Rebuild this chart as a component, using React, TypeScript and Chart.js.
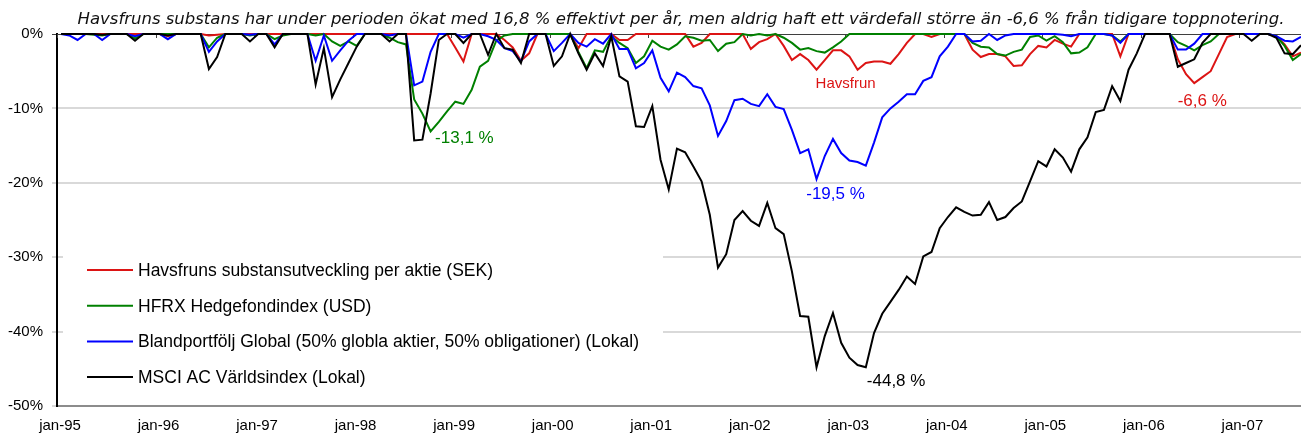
import React, { useEffect, useRef } from "react";
import { Chart, registerables } from "chart.js";

Chart.register(...registerables);

const TITLE =
  "Havsfruns substans har under perioden ökat med 16,8 % effektivt per år, men aldrig haft ett värdefall större än -6,6 % från tidigare toppnotering.";

const YEAR_LABELS = [
  "jan-95", "jan-96", "jan-97", "jan-98", "jan-99", "jan-00", "jan-01",
  "jan-02", "jan-03", "jan-04", "jan-05", "jan-06", "jan-07",
];

const SERIES_NAMES = [
  "Havsfruns substansutveckling per aktie (SEK)",
  "HFRX Hedgefondindex (USD)",
  "Blandportfölj Global (50% globla aktier, 50% obligationer) (Lokal)",
  "MSCI AC Världsindex (Lokal)",
];

const SERIES_COLORS = ["#dc1414", "#008000", "#0000ff", "#000000"];

// monthly drawdown (%), jan-95 .. aug-07
const HAVSFRUN = [
  0, 0, 0, 0, 0, 0, 0, 0, 0, 0, 0, 0,
  0, -0.3, 0, 0, 0, 0, -0.2, -0.1, 0, 0, 0, 0,
  0, 0, 0, 0, 0, 0, 0, 0, 0, 0, 0, 0,
  0, 0, 0, 0, 0, 0, 0, 0, 0, 0, 0, 0,
  -1.8, -3.7, 0, 0, 0, 0, -0.8, -1.8, -3.6, -2.6, 0, 0,
  0, 0, 0, -1.9, 0, 0, 0, 0, -0.8, -0.8, 0, 0,
  0, 0, 0, 0, 0, -1.7, -1.2, 0, 0, 0, 0, 0,
  -2.0, -1.1, -0.7, 0, -1.6, -3.5, -2.7, -3.5, -4.8, -3.5, -2.2, -2.2,
  -3.0, -4.8, -3.9, -3.7, -3.7, -4.0, -2.7, -1.2, 0, 0, -0.4, 0,
  0, 0, 0, -2.1, -3.1, -2.7, -2.7, -3.0, -4.3, -4.2, -2.7, -1.6,
  -1.8, -0.8, -1.3, -1.7, 0, 0, 0, 0, 0, -3.0, 0, 0,
  0, 0, 0, 0, -3.4, -5.4, -6.6, -5.8, -5.0, -2.7, -0.4, 0,
  0, 0, 0, 0, -0.3, -1.4, -3.0, -2.5,
];

const HFRX = [
  0, 0, 0, 0, -0.1, -0.2, 0, 0, 0, -0.6, 0, 0,
  0, 0, 0, 0, 0, 0, -1.8, -0.5, 0, 0, 0, -0.2,
  0, 0, -0.7, -0.2, 0, 0, 0, -0.2, 0, -1.0, -1.6, -1.0,
  -1.6, 0, 0, 0, -0.5, -1.1, -1.4, -8.8, -10.7, -13.1, -11.8, -10.4,
  -9.1, -9.4, -7.5, -4.4, -3.6, -0.9, -0.2, 0, 0, 0, 0, 0,
  0, 0, 0, -2.4, -4.6, -2.2, -2.4, -0.3, -1.2, -1.9, -3.9, -3.0,
  -0.9, -1.7, -2.1, -1.4, -0.3, -0.5, -0.9, -0.8, -2.3, -1.3, -1.1, 0,
  -0.2, 0, -0.2, 0, -0.5, -1.2, -2.1, -1.9, -2.3, -2.5, -1.8, -1.0,
  0, 0, 0, 0, 0, 0, 0, 0, 0, 0, 0, 0,
  0, 0, 0, -1.2, -1.7, -1.8, -2.7, -2.9, -2.4, -2.1, -0.4, -0.2,
  -0.9, -0.3, -1.1, -2.6, -2.5, -1.8, 0, 0, -0.2, -1.0, 0, 0,
  0, 0, 0, 0, -1.1, -1.6, -2.2, -1.5, -1.0, 0, 0, 0,
  0, 0, 0, 0, -0.3, -1.6, -3.5, -2.7,
];

const BLANDPORTFOLJ = [
  0, -0.2, -0.8, 0, 0, -0.8, 0, 0, 0, -0.3, 0, 0,
  0, -0.7, 0, 0, 0, 0, -2.4, -1.0, 0, 0, 0, -0.1,
  0, 0, -1.4, 0, 0, 0, 0, -3.6, -0.2, -3.6, -2.2, -0.9,
  0, 0, 0, 0, -0.2, 0, 0, -6.9, -6.4, -2.4, 0, 0,
  0, -0.5, 0, 0, -0.3, -0.8, -1.9, -2.3, -3.7, -1.0, 0, 0,
  -2.3, -1.2, 0, -1.2, -1.7, -0.7, -1.3, 0, -2.0, -2.0, -4.6, -3.9,
  -2.2, -5.9, -7.7, -5.2, -5.8, -7.0, -7.3, -9.6, -13.7, -11.7, -8.9, -8.7,
  -9.4, -9.7, -8.1, -9.8, -10.1, -12.9, -16.0, -15.5, -19.5, -16.4, -14.1, -16.0,
  -17.0, -17.2, -17.7, -14.6, -11.2, -10.0, -9.1, -8.1, -8.1, -6.3, -5.8, -3.0,
  -1.7, 0, 0, -1.0, -0.9, 0, -0.8, -0.2, 0, 0, 0, 0,
  0, 0, -0.1, -0.3, 0, 0, 0, 0, -0.2, -1.2, 0, 0,
  0, 0, 0, 0, -2.1, -2.1, -1.3, 0, 0, 0, 0, 0,
  0, 0, 0, 0, -0.3, -0.9, -1.0, -0.4,
];

const MSCI = [
  0, 0, 0, 0, 0, -0.1, 0, 0, 0, -0.9, 0, 0,
  0, -0.2, 0, 0, 0, 0, -4.7, -3.1, 0, 0, 0, -1.0,
  0, 0, -1.8, 0, 0, 0, 0, -6.8, -1.9, -8.5, -6.1, -3.9,
  -1.7, 0, 0, 0, -1.0, 0, 0, -14.3, -14.2, -8.0, -0.8, 0,
  0, -1.2, 0, 0, -2.8, 0, -1.9, -2.1, -3.9, 0, 0, 0,
  -4.3, -3.0, 0, -2.6, -4.8, -2.6, -4.3, -0.3, -5.7, -6.4, -12.4, -12.5,
  -9.7, -16.9, -20.9, -15.4, -15.9, -17.8, -19.8, -24.3, -31.4, -29.6, -25.0, -23.8,
  -25.1, -25.8, -22.7, -26.1, -26.9, -31.9, -37.9, -38.0, -44.8, -40.6, -37.5, -41.5,
  -43.5, -44.5, -44.8, -40.2, -37.6, -36.0, -34.4, -32.6, -33.6, -29.9, -29.3, -26.1,
  -24.6, -23.3, -23.9, -24.4, -24.3, -22.6, -25.0, -24.6, -23.4, -22.5, -19.8, -17.1,
  -17.8, -15.5, -16.6, -18.5, -15.5, -13.9, -10.5, -10.2, -7.0, -9.0, -4.8, -2.6,
  0, 0, 0, 0, -4.4, -3.9, -3.4, -1.2, 0, 0, 0, 0,
  0, -0.9, 0, 0, -0.5, -2.6, -2.7, -1.5,
];

const SERIES = [HAVSFRUN, HFRX, BLANDPORTFOLJ, MSCI];

// annotation labels: [text, series index, month index]
const ANNOTATIONS: { text: string; series: number; month: number }[] = [
  { text: "Havsfrun", series: 0, month: 97 },
  { text: "-6,6 %", series: 0, month: 138 },
  { text: "-13,1 %", series: 1, month: 45 },
  { text: "-19,5 %", series: 2, month: 92 },
  { text: "-44,8 %", series: 3, month: 98 },
];

const ANNOT_STYLE = [
  { dx: -12, dy: 14.5, align: "center", size: 15 },
  { dx: 8, dy: 18.6, align: "center", size: 17 },
  { dx: 4.5, dy: 7, align: "left", size: 17 },
  { dx: 19, dy: 15.6, align: "center", size: 17 },
  { dx: 1, dy: 14.5, align: "left", size: 17 },
];

const FONT = '"Liberation Sans", Arial, sans-serif';

const overlayPlugin = {
  id: "overlay",
  beforeDatasetsDraw(chart: any) {
    const { ctx, chartArea, scales } = chart;
    const x = scales.x;
    ctx.save();
    // year tick marks on the 0% line
    ctx.strokeStyle = "#3f3f3f";
    ctx.lineWidth = 1;
    YEAR_LABELS.forEach((_, k) => {
      const px = Math.round(x.getPixelForValue(k * 12)) + 0.5;
      ctx.beginPath();
      ctx.moveTo(px, chartArea.top);
      ctx.lineTo(px, chartArea.top + 4);
      ctx.stroke();
    });
    // legend box
    const lx = chartArea.left + 6;
    ctx.fillStyle = "#ffffff";
    ctx.fillRect(lx, 246, 600, 150);
    ctx.font = `17.5px ${FONT}`;
    ctx.textBaseline = "middle";
    ctx.textAlign = "left";
    SERIES_NAMES.forEach((name, k) => {
      const ly = 270 + k * 35.7;
      ctx.strokeStyle = SERIES_COLORS[k];
      ctx.lineWidth = 2;
      ctx.beginPath();
      ctx.moveTo(87, ly);
      ctx.lineTo(133, ly);
      ctx.stroke();
      ctx.fillStyle = "#000";
      ctx.fillText(name, 138, ly + 1);
    });
    ctx.restore();
  },
  afterDatasetsDraw(chart: any) {
    const { ctx, scales } = chart;
    ctx.save();
    ctx.textBaseline = "middle";
    ANNOTATIONS.forEach((a, k) => {
      const st = ANNOT_STYLE[k];
      const px = scales.x.getPixelForValue(a.month + 0.5);
      const py = scales.y.getPixelForValue(SERIES[a.series][a.month]);
      ctx.font = `${st.size}px ${FONT}`;
      ctx.textAlign = st.align;
      ctx.fillStyle = SERIES_COLORS[a.series];
      ctx.fillText(a.text, px + st.dx, py + st.dy);
    });
    ctx.restore();
  },
  afterDraw(chart: any) {
    const { ctx } = chart;
    ctx.save();
    ctx.font = 'italic 16.5px "DejaVu Sans", Verdana, sans-serif';
    ctx.textAlign = "center";
    ctx.textBaseline = "middle";
    ctx.fillStyle = "#111";
    ctx.fillText(TITLE, 681, 20);
    ctx.restore();
  },
};

export default function App() {
  const ref = useRef<HTMLCanvasElement>(null);

  useEffect(() => {
    document.body.style.margin = "0";
    const canvas = ref.current!;
    const order = [4, 3, 2, 1];
    const chart = new Chart(canvas, {
      type: "line",
      data: {
        datasets: SERIES.map((arr, k) => ({
          label: SERIES_NAMES[k],
          data: arr.map((v, i) => ({ x: i + 0.5, y: v })),
          borderColor: SERIES_COLORS[k],
          backgroundColor: SERIES_COLORS[k],
          borderWidth: 2,
          pointRadius: 0,
          tension: 0,
          clip: false as any,
          order: order[k],
        })),
      },
      options: {
        animation: false,
        responsive: false,
        devicePixelRatio: 1,
        layout: { padding: { top: 34, left: 0, right: 0, bottom: 0 } },
        plugins: {
          legend: { display: false },
          title: { display: false },
          tooltip: { enabled: false },
        },
        scales: {
          x: {
            type: "linear",
            min: 0,
            max: 151.5,
            afterBuildTicks: (s: any) => {
              s.ticks = YEAR_LABELS.map((_, k) => ({ value: k * 12 }));
            },
            afterFit: (s: any) => {
              s.height = 30;
            },
            ticks: {
              callback: (v: any) => YEAR_LABELS[Math.round(Number(v) / 12)] ?? "",
              font: { family: FONT, size: 15 },
              color: "#000",
              padding: 11,
              maxRotation: 0,
              autoSkip: false,
              labelOffset: 3,
            },
            grid: { display: false, drawTicks: false },
            border: { color: "#8c8c8c", width: 2 },
          },
          y: {
            min: -50,
            max: 0,
            afterFit: (s: any) => {
              s.width = 57;
            },
            ticks: {
              stepSize: 10,
              callback: (v: any) => `${v}%`,
              font: { family: FONT, size: 15 },
              color: "#000",
              padding: 9,
            },
            grid: {
              color: (c: any) => (c.tick && c.tick.value === 0 ? "#3f3f3f" : "#d9d9d9"),
              lineWidth: (c: any) => (c.tick && c.tick.value === 0 ? 1 : 2),
              tickLength: 5,
              tickColor: (c: any) => (c.tick && c.tick.value === 0 ? "#3f3f3f" : "#d9d9d9"),
            },
            border: { color: "#000", width: 2 },
          },
        },
      },
      plugins: [overlayPlugin],
    } as any);
    return () => chart.destroy();
  }, []);

  return (
    <div style={{ width: 1301, height: 436, background: "#fff" }}>
      <canvas ref={ref} width={1301} height={436} style={{ display: "block" }} />
    </div>
  );
}
